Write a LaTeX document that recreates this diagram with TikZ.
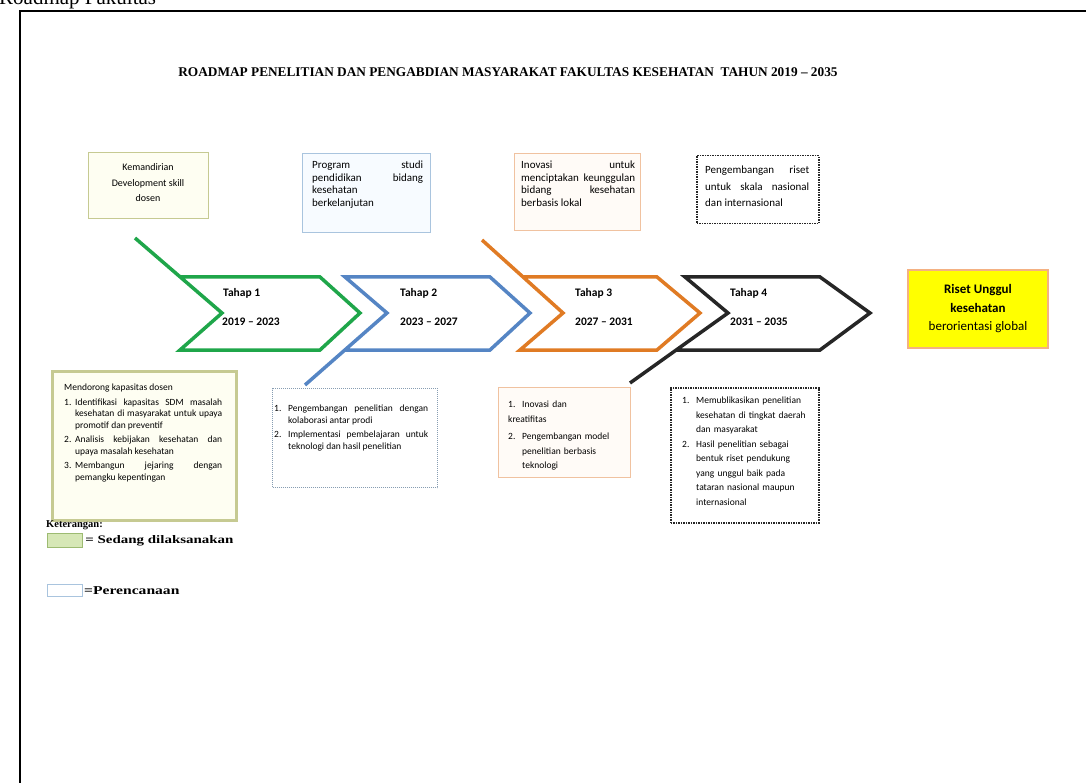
\documentclass[tikz,border=0pt]{standalone}
\usepackage{fontspec}
\setmainfont{Liberation Serif}
\newfontfamily\calib{Carlito}
\newfontfamily\legendfont[FakeStretch=1.3]{Liberation Serif}
\hyphenpenalty=10000
\exhyphenpenalty=10000

\definecolor{tahapA}{HTML}{1FA64A}
\definecolor{tahapB}{HTML}{5585C4}
\definecolor{tahapC}{HTML}{E07B24}
\definecolor{tahapD}{HTML}{262626}
\definecolor{oliveline}{HTML}{C6CA92}
\definecolor{olivefill}{HTML}{FEFEF2}
\definecolor{skyline}{HTML}{A9C4DE}
\definecolor{skyfill}{HTML}{F7FBFF}
\definecolor{tanline}{HTML}{F0C2A0}
\definecolor{tanfill}{HTML}{FFFBF7}
\definecolor{goalline}{HTML}{F4B183}
\definecolor{goalfill}{HTML}{FFFF00}
\definecolor{swatchfill}{HTML}{D6E7B6}
\definecolor{swatchline}{HTML}{9DBB72}

% numbered line with hanging indent
\newlength{\itmgap}
\setlength{\itmgap}{3pt}
\newcommand{\itm}[3]{\par\addvspace{\itmgap}\noindent\hangindent=#1\hangafter=1\hbox to #1{#2\hfil}#3}

\begin{document}
\begin{tikzpicture}[x=1pt, y=-1pt,
  chev/.style={line width=3.5pt, line join=miter},
  boxtext/.style={anchor=north west, inner sep=0pt, align=justify,
    font={\calib\fontsize{11}{12.5}\selectfont}},
  listtext/.style={anchor=north west, inner sep=0pt, align=justify,
    font={\calib\fontsize{9.5}{11.5}\selectfont}},
  tahaplabel/.style={anchor=west, inner sep=0pt,
    font={\calib\bfseries\fontsize{11.5}{13}\selectfont}},
  frame/.style={anchor=north west, inner sep=0pt}]

\useasboundingbox (0,0) rectangle (1086,783);

\newcommand{\chevtop}{277}
\newcommand{\chevbot}{350}
\newcommand{\chevmid}{313}

% page frame and caption
\draw[line width=1.6pt] (20,790) -- (20,11) -- (1090,11);
\node[anchor=base west, inner sep=0pt, font=\fontsize{21}{24}\selectfont] (caption) at (-1,5) {Roadmap Fakultas};

% title
\node[inner sep=0pt, font={\bfseries\fontsize{13.3}{15}\selectfont}] (title) at (508,72)
  {ROADMAP PENELITIAN DAN PENGABDIAN MASYARAKAT FAKULTAS KESEHATAN \ TAHUN 2019 – 2035};

% top boxes
\node[frame, draw=oliveline, line width=1.3pt, fill=olivefill, minimum width=120, minimum height=66] (planA) at (88,152) {};
\node[inner sep=0pt, align=center, font={\calib\fontsize{10}{15.5}\selectfont}] (planAtext) at (148,183)
  {Kemandirian\\ Development skill\\ dosen};

\node[frame, draw=skyline, line width=1pt, fill=skyfill, minimum width=128, minimum height=79] (planB) at (302,153) {};
\node[boxtext, text width=111] (planBtext) at ([shift={(10,8)}]planB.north west)
  {Program studi pendidikan bidang kesehatan\newline berkelanjutan};

\node[frame, draw=tanline, line width=1pt, fill=tanfill, minimum width=126, minimum height=77] (planC) at (514,153) {};
\node[boxtext, text width=114] (planCtext) at ([shift={(7,8)}]planC.north west)
  {Inovasi untuk menciptakan keunggulan bidang kesehatan berbasis lokal};

\node[frame, draw=tahapD, line width=1.5pt, densely dotted, minimum width=122, minimum height=68] (planD) at (696,155) {};
\node[boxtext, text width=104, font={\calib\fontsize{11}{16.5}\selectfont}] (planDtext) at ([shift={(9,11)}]planD.north west)
  {Pengembangan riset untuk skala nasional dan internasional};

% tahap 1 (green)
\coordinate (notchA) at (222,\chevmid);
\coordinate (leadA) at (135,238);
\draw[chev, tahapA] (leadA) -- (notchA) -- (180,\chevbot) -- (320,\chevbot) -- (360,\chevmid) -- (320,\chevtop) -- (180,\chevtop);
\node[tahaplabel] (tahapA) at (223,293) {Tahap 1};
\node[tahaplabel] (yearA) at (222,322) {2019 – 2023};

% tahap 2 (blue)
\coordinate (notchB) at (387,\chevmid);
\coordinate (leadB) at (305,385);
\draw[chev, tahapB] (leadB) -- (notchB) -- (345,\chevtop) -- (490,\chevtop) -- (530,\chevmid) -- (490,\chevbot) -- (345,\chevbot);
\node[tahaplabel] (tahapB) at (400,293) {Tahap 2};
\node[tahaplabel] (yearB) at (400,322) {2023 – 2027};

% tahap 3 (orange)
\coordinate (notchC) at (563,\chevmid);
\coordinate (leadC) at (482,240);
\draw[chev, tahapC] (leadC) -- (notchC) -- (520,\chevbot) -- (657,\chevbot) -- (700,\chevmid) -- (657,\chevtop) -- (523,\chevtop);
\node[tahaplabel] (tahapC) at (575,293) {Tahap 3};
\node[tahaplabel] (yearC) at (575,322) {2027 – 2031};

% tahap 4 (black)
\coordinate (notchD) at (728,\chevmid);
\coordinate (leadD) at (630,383);
\draw[chev, tahapD] (leadD) -- (notchD) -- (685,\chevtop) -- (820,\chevtop) -- (870,\chevmid) -- (820,\chevbot) -- (676,\chevbot);
\node[tahaplabel] (tahapD) at (730,293) {Tahap 4};
\node[tahaplabel] (yearD) at (730,322) {2031 – 2035};

% goal
\node[draw=goalline, line width=2.5pt, fill=goalfill, minimum width=140, minimum height=78, align=center,
  font={\calib\fontsize{13}{18.5}\selectfont}] (goal) at (978,309)
  {\textbf{Riset Unggul}\\ \textbf{kesehatan}\\ berorientasi global};

% bottom boxes
\node[frame, draw=oliveline, line width=2.6pt, fill=olivefill, minimum width=184, minimum height=149] (doA) at (51,370) {};
\node[listtext, text width=158] (doAtext) at ([shift={(13,14)}]doA.north west)
  {Mendorong kapasitas dosen
  \itm{11pt}{1.}{Identifikasi kapasitas SDM masalah kesehatan di masyarakat untuk upaya promotif dan preventif}
  \itm{11pt}{2.}{Analisis kebijakan kesehatan dan upaya masalah kesehatan}
  \itm{11pt}{3.}{Membangun jejaring dengan pemangku kepentingan}\par};

\node[frame, draw=skyline!80!black, line width=1pt, densely dotted, minimum width=165, minimum height=99] (doB) at (272,388) {};
\node[listtext, text width=154] (doBtext) at ([shift={(2,9)}]doB.north west)
  {\itm{14pt}{1.}{Pengembangan penelitian dengan kolaborasi antar prodi}
  \itm{14pt}{2.}{Implementasi pembelajaran untuk teknologi dan hasil penelitian}\par};

\node[frame, draw=tanline, line width=1pt, fill=tanfill, minimum width=132, minimum height=90] (doC) at (498,387) {};
\node[listtext, text width=112, align=left, font={\calib\fontsize{9.5}{14.5}\selectfont}] (doCtext) at ([shift={(10,3)}]doC.north west)
  {\itm{14pt}{1.}{Inovasi dan\\ kreatifitas}
  \itm{14pt}{2.}{Pengembangan model penelitian berbasis teknologi}\par};

\node[frame, draw=tahapD, line width=1.5pt, densely dotted, minimum width=148, minimum height=135] (doD) at (670,387) {};
\node[listtext, text width=126, align=left, font={\calib\fontsize{9.5}{14.5}\selectfont\setlength{\itmgap}{0pt}}] (doDtext) at ([shift={(12,2)}]doD.north west)
  {\itm{14pt}{1.}{Memublikasikan penelitian kesehatan di tingkat daerah dan masyarakat}
  \itm{14pt}{2.}{Hasil penelitian sebagai bentuk riset pendukung yang unggul baik pada tataran nasional maupun internasional}\par};

% keterangan
\node[anchor=west, inner sep=0pt, font={\bfseries\fontsize{10.5}{12}\selectfont}] (ketLabel) at (46,525) {Keterangan:};
\node[frame, draw=swatchline, line width=1.2pt, fill=swatchfill, minimum width=35, minimum height=14] (ketA) at (47,533) {};
\node[anchor=west, inner sep=2pt, font={\legendfont\bfseries\fontsize{11.5}{14}\selectfont}] (ketAtext) at (ketA.east) {= Sedang dilaksanakan};
\node[frame, draw=skyline, line width=1pt, fill=white, minimum width=35, minimum height=12] (ketB) at (47,584) {};
\node[anchor=west, inner sep=1pt, font={\legendfont\bfseries\fontsize{12}{14}\selectfont}] (ketBtext) at (ketB.east) {=Perencanaan};

\end{tikzpicture}
\end{document}
